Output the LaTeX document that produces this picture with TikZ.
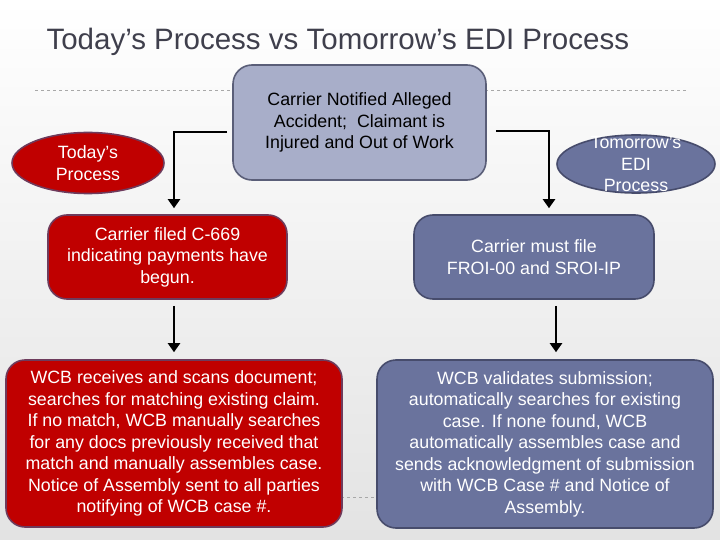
\documentclass[tikz,border=0pt]{standalone}
\usepackage{fontspec}
\setmainfont{Liberation Sans}
\usetikzlibrary{arrows.meta, positioning, calc, shapes.geometric}
\definecolor{titlecolor}{HTML}{3F3F4C}
\definecolor{redfill}{HTML}{C00000}
\definecolor{redline}{HTML}{6E3B5C}
\definecolor{bluefill}{HTML}{6A739D}
\definecolor{blueline}{HTML}{474C6C}
\definecolor{greyfill}{HTML}{A8AEC9}
\definecolor{greyline}{HTML}{5A5E78}
\definecolor{rulecolor}{HTML}{A8A8A8}

\begin{document}
\begin{tikzpicture}[
    x=1pt, y=-1pt,
    every node/.style={font=\fontsize{17.8}{21.5}\selectfont, align=center},
    box/.style={rectangle, rounded corners=19pt, line width=1.6pt, inner sep=0pt},
    today/.style={box, fill=redfill, draw=redline, text=white},
    tomorrow/.style={box, fill=bluefill, draw=blueline, text=white},
    pill/.style={ellipse, line width=1.6pt, inner sep=0pt},
    flow/.style={black, line width=2.2pt, -{Triangle[width=12pt, length=9pt]}},
]
\useasboundingbox (0,0) rectangle (720,540);
\shade[top color=white, bottom color=black!11] (0,0) rectangle (720,540);

\node[anchor=base west, font=\fontsize{29.5}{32}\selectfont, text=titlecolor] (title) at (43,50)
    {Today’s Process vs Tomorrow’s EDI Process};

% slide rules, behind the boxes
\draw[rulecolor, dashed, line width=0.6pt] (35,90) -- (686,90);
\draw[rulecolor, dashed, line width=0.6pt] (35,497) -- (686,497);

\node[box, fill=greyfill, draw=greyline, minimum width=253, minimum height=115] (notice) at (359.5,122.5)
    {Carrier Notified Alleged\\Accident;\ \ Claimant is\\Injured and Out of Work};

\node[pill, fill=redfill, draw=redline, text=white, minimum width=152, minimum height=61] (todaypill) at (88,163)
    {Today’s\\Process};
\node[pill, fill=bluefill, draw=blueline, minimum width=158, minimum height=58] (tomorrowpill) at (636,164) {};
\node[text=white] (tomorrowtxt) at (tomorrowpill) {Tomorrow’s\\EDI\\Process};

\node[today, minimum width=239, minimum height=84] (c669) at (167.5,257)
    {Carrier filed C-669\\indicating payments have\\begun.};
\node[tomorrow, minimum width=240, minimum height=84] (froi) at (534,257)
    {Carrier must file\\FROI-00 and SROI-IP};

\node[today, minimum width=336, minimum height=167] (wcbold) at (174,443.5)
    {WCB receives and scans document;\\searches for matching existing claim.\\If no match, WCB manually searches\\for any docs previously received that\\match and manually assembles case.\\Notice of Assembly sent to all parties\\notifying of WCB case \#.};
\node[tomorrow, minimum width=336, minimum height=168] (wcbnew) at (545,444)
    {WCB validates submission;\\automatically searches for existing\\case. If none found, WCB\\automatically assembles case and\\sends acknowledgment of submission\\with WCB Case \# and Notice of\\Assembly.};

\draw[flow] ([xshift=-5pt, yshift=-9.5pt]notice.west) -| ([xshift=6.5pt, yshift=6pt]c669.north);
\draw[flow] ([xshift=9pt, yshift=-8.5pt]notice.east) -| ([xshift=15pt, yshift=6pt]froi.north);
\draw[flow] ([xshift=6.5pt, yshift=-6pt]c669.south) -- ([yshift=7pt]wcbold.north);
\draw[flow] ([xshift=22pt, yshift=-6pt]froi.south) -- ([xshift=11pt, yshift=7pt]wcbnew.north);
\end{tikzpicture}
\end{document}
